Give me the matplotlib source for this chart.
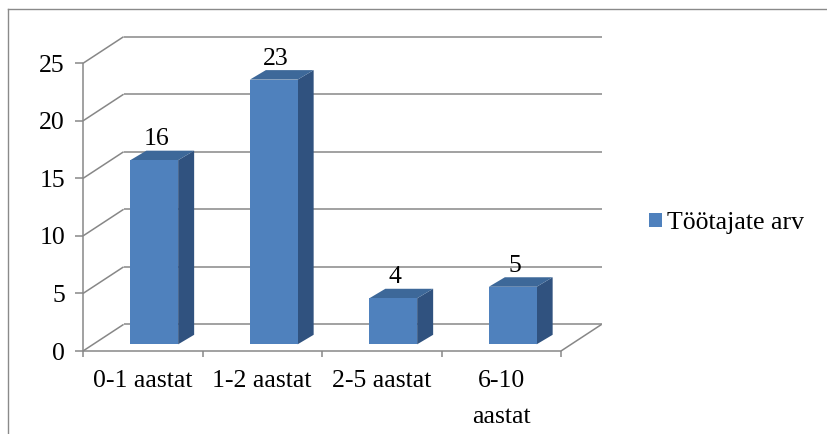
import matplotlib
matplotlib.use("Agg")
import matplotlib.pyplot as plt
from matplotlib.patches import Polygon, Rectangle, Patch
from matplotlib.lines import Line2D

# ---- data ----
categories = ["0-1 aastat", "1-2 aastat", "2-5 aastat", "6-10\naastat"]
values = [16, 23, 4, 5]
series_name = "Töötajate arv"
yticks = [0, 5, 10, 15, 20, 25]

# ---- style ----
plt.rcParams["font.family"] = ["Liberation Serif", "DejaVu Serif"]
FS = 18.5
FRONT = "#4F81BD"
TOP = "#3D6899"
SIDE = "#30527F"
GRID = "#878787"

W, H, DPI = 827, 434, 100
fig = plt.figure(figsize=(W / DPI, H / DPI), dpi=DPI)

# front plane of the plot area, in pixels (top-left origin)
px0, px1 = 83, 561
py0, py1 = 351, 63.3
ax = fig.add_axes([px0 / W, (H - py0) / H, (px1 - px0) / W, (py0 - py1) / H])
ncat = len(categories)
ymax = yticks[-1]
ax.set_xlim(0, ncat)
ax.set_ylim(0, ymax)
ax.axis("off")

ux = (px1 - px0) / ncat      # pixels per category
uy = (py0 - py1) / ymax      # pixels per value unit

def px(dx=0.0, dy=0.0):
    """Convert a pixel offset to data units."""
    return dx / ux, dy / uy

# depth of the walls and of the bars (pixels, oblique projection)
wall_dx, wall_dy = px(40.6, 26.6)
bar_fx, bar_fy = px(11.5, 6.7)
bar_dx, bar_dy = px(16, 9.5)
bar_w = 0.40

line_kw = dict(color=GRID, lw=1.1, clip_on=False, solid_capstyle="butt")

# back wall gridlines + left wall diagonals
for v in yticks:
    ax.plot([0 + wall_dx, ncat + wall_dx], [v + wall_dy, v + wall_dy], **line_kw)
    ax.plot([0, wall_dx], [v, v + wall_dy], **line_kw)
# floor right edge
ax.plot([ncat, ncat + wall_dx], [0, wall_dy], **line_kw)
# front axes
ax.plot([0, 0], [0, ymax], **line_kw)
ax.plot([0, ncat], [0, 0], **line_kw)
tkx, _ = px(8, 0)
_, tky = px(0, 6)
for v in yticks:
    ax.plot([-tkx, 0], [v, v], **line_kw)
for i in range(ncat + 1):
    ax.plot([i, i], [0, -tky], **line_kw)

# bars
for i, v in enumerate(values):
    left = i + 0.5 - bar_w / 2 + bar_fx
    bot = bar_fy
    side = Polygon([(left + bar_w, bot), (left + bar_w + bar_dx, bot + bar_dy),
                    (left + bar_w + bar_dx, bot + v + bar_dy), (left + bar_w, bot + v)],
                   closed=True, facecolor=SIDE, edgecolor="none", clip_on=False, zorder=3)
    top = Polygon([(left, bot + v), (left + bar_w, bot + v),
                   (left + bar_w + bar_dx, bot + v + bar_dy), (left + bar_dx, bot + v + bar_dy)],
                  closed=True, facecolor=TOP, edgecolor="none", clip_on=False, zorder=3)
    front = Rectangle((left, bot), bar_w, v, facecolor=FRONT, edgecolor="none",
                      clip_on=False, zorder=4)
    for p in (side, top, front):
        ax.add_patch(p)
    lx, ly = px(13.5, 21.5)
    ax.text(i + 0.5 + lx, v + ly, str(v), ha="center", va="baseline",
            fontsize=FS, color="black", zorder=5, clip_on=False)

# y tick labels
lx, ly = px(18, 8.5)
for v in yticks:
    ax.text(-lx, v - ly, str(v), ha="right", va="baseline", fontsize=FS, clip_on=False)

# category labels
_, first = px(0, 35.7)
_, step = px(0, 36.6)
for i, lab in enumerate(categories):
    for j, line in enumerate(lab.split("\n")):
        ax.text(i + 0.5, -first - j * step, line, ha="center", va="baseline",
                fontsize=FS, clip_on=False)

# legend
fig.legend(handles=[Patch(facecolor=FRONT, edgecolor="none")], labels=[series_name],
           loc="center left", bbox_to_anchor=(649 / W, 1 - 223 / H),
           frameon=False, borderpad=0, borderaxespad=0, fontsize=FS,
           handlelength=0.5, handleheight=0.5, handletextpad=0.2)

# outer chart frame
fig.add_artist(Line2D([8 / W, 8 / W], [0, 1 - 9 / H], transform=fig.transFigure,
                      color="#8a8a8a", lw=1.0))
fig.add_artist(Line2D([8 / W, 1], [1 - 9 / H, 1 - 9 / H], transform=fig.transFigure,
                      color="#8a8a8a", lw=1.0))

fig.savefig("out.png", dpi=DPI)
